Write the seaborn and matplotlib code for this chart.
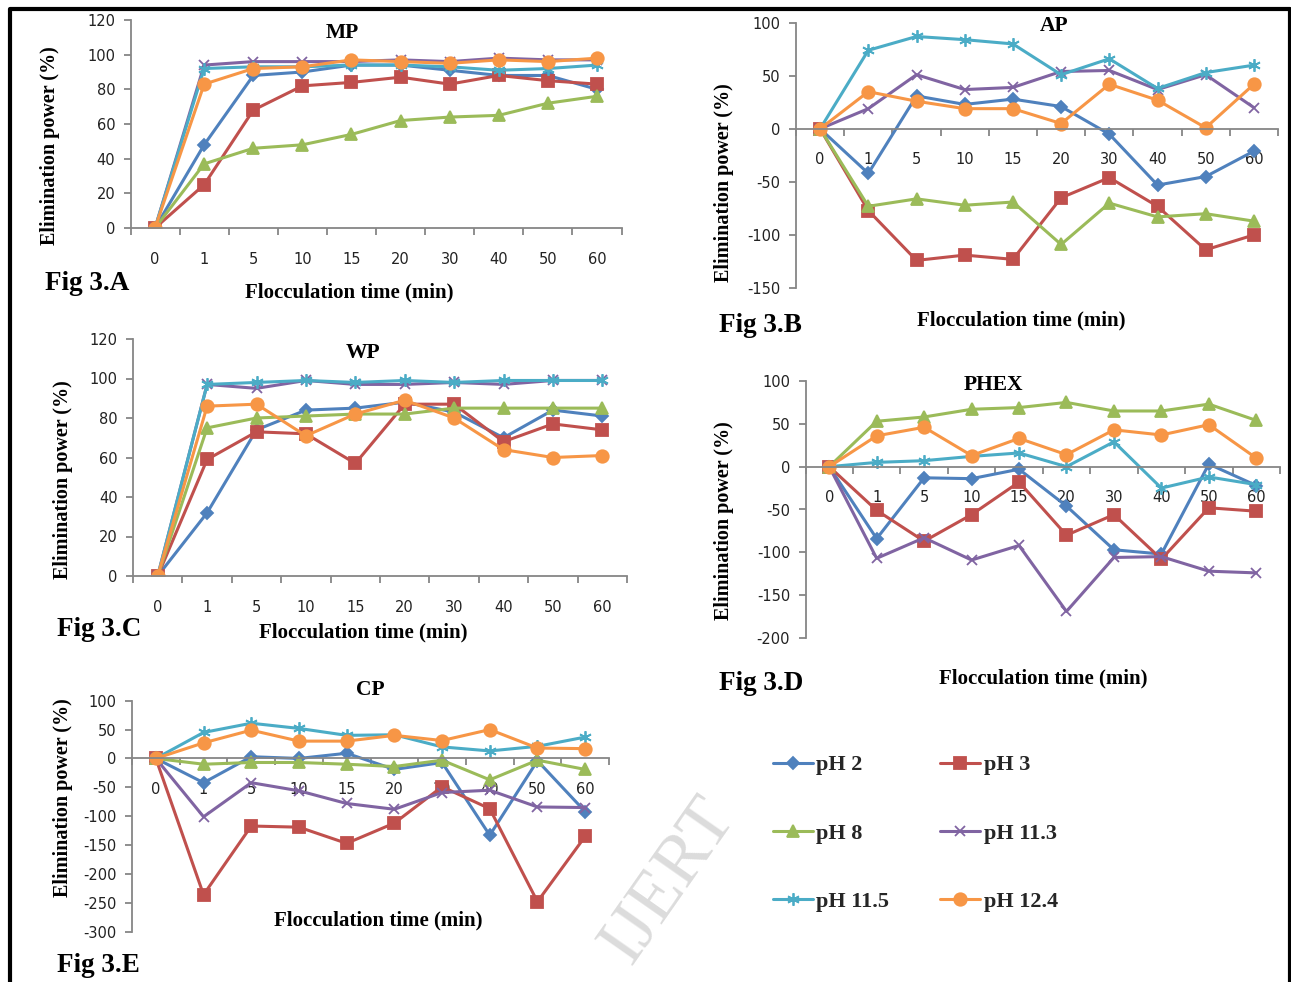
import numpy as np
import matplotlib
matplotlib.use("Agg")
import matplotlib.pyplot as plt
import matplotlib.lines as mlines
import seaborn as sns

# flocculation times (categorical x axis)
times = ["0", "1", "5", "10", "15", "20", "30", "40", "50", "60"]
series_names = ["pH 2", "pH 3", "pH 8", "pH 11.3", "pH 11.5", "pH 12.4"]

# Fig 3.A  MP
mp_ph2 = [0, 48, 88, 90, 94, 94, 91, 88, 88, 80]
mp_ph3 = [0, 25, 68, 82, 84, 87, 83, 88, 85, 83]
mp_ph8 = [0, 37, 46, 48, 54, 62, 64, 65, 72, 76]
mp_ph113 = [0, 94, 96, 96, 96, 97, 96, 98, 97, 97]
mp_ph115 = [0, 92, 93, 93, 94, 94, 93, 91, 92, 94]
mp_ph124 = [0, 83, 92, 93, 97, 96, 95, 97, 96, 98]

# Fig 3.B  AP
ap_ph2 = [0, -42, 31, 23, 28, 21, -5, -53, -45, -21]
ap_ph3 = [0, -77, -124, -119, -123, -65, -46, -73, -114, -100]
ap_ph8 = [0, -73, -66, -72, -69, -109, -70, -83, -80, -87]
ap_ph113 = [0, 19, 51, 37, 39, 54, 55, 37, 51, 20]
ap_ph115 = [0, 74, 87, 84, 80, 51, 66, 38, 53, 60]
ap_ph124 = [0, 35, 26, 19, 19, 5, 42, 27, 1, 42]

# Fig 3.C  WP
wp_ph2 = [0, 32, 74, 84, 85, 88, 83, 70, 84, 81]
wp_ph3 = [0, 59, 73, 72, 57, 87, 87, 68, 77, 74]
wp_ph8 = [0, 75, 80, 81, 82, 82, 85, 85, 85, 85]
wp_ph113 = [0, 97, 95, 99, 97, 97, 98, 97, 99, 99]
wp_ph115 = [0, 97, 98, 99, 98, 99, 98, 99, 99, 99]
wp_ph124 = [0, 86, 87, 71, 82, 89, 80, 64, 60, 61]

# Fig 3.D  PHEX
phex_ph2 = [0, -84, -13, -14, -3, -46, -97, -102, 3, -22]
phex_ph3 = [0, -51, -87, -56, -18, -80, -56, -108, -48, -52]
phex_ph8 = [0, 53, 58, 67, 69, 75, 65, 65, 73, 54]
phex_ph113 = [0, -107, -83, -109, -92, -169, -106, -105, -122, -124]
phex_ph115 = [0, 5, 7, 12, 16, 0, 29, -25, -12, -21]
phex_ph124 = [0, 36, 46, 13, 33, 14, 43, 37, 49, 10]

# Fig 3.E  CP
cp_ph2 = [0, -42, 3, 0, 9, -19, -7, -133, -4, -92]
cp_ph3 = [0, -236, -117, -119, -147, -112, -49, -87, -248, -135]
cp_ph8 = [0, -10, -7, -7, -10, -14, -3, -37, -3, -19]
cp_ph113 = [0, -101, -42, -56, -78, -88, -59, -55, -84, -85]
cp_ph115 = [0, 45, 61, 52, 40, 41, 20, 13, 21, 37]
cp_ph124 = [0, 27, 49, 30, 30, 40, 31, 50, 18, 17]

colors = ["#4F81BD", "#C0504D", "#9BBB59", "#8064A2", "#4BACC6", "#F79646"]
markers = ["D", "s", "^", "x", (6, 2, 0), "o"]
msizes = [6.5, 8, 8.5, 7, 9, 9]

sns.set_theme(style="white")
plt.rcParams["font.family"] = ["Liberation Serif", "DejaVu Serif"]
plt.rcParams["axes.unicode_minus"] = False

W, H = 1291, 982
fig = plt.figure(figsize=(W / 100, H / 100), dpi=100)


def px(x, y):
    return x / W, 1 - y / H


def make_axes(left, right, top, bottom):
    return fig.add_axes([left / W, 1 - bottom / H, (right - left) / W, (bottom - top) / H])


panels = [
    ("MP", [mp_ph2, mp_ph3, mp_ph8, mp_ph113, mp_ph115, mp_ph124], (130.5, 621.6, 20, 228), (0, 120, 20)),
    ("AP", [ap_ph2, ap_ph3, ap_ph8, ap_ph113, ap_ph115, ap_ph124], (796, 1278, 22.7, 288), (-150, 100, 50)),
    ("WP", [wp_ph2, wp_ph3, wp_ph8, wp_ph113, wp_ph115, wp_ph124], (133, 627, 339, 576), (0, 120, 20)),
    ("PHEX", [phex_ph2, phex_ph3, phex_ph8, phex_ph113, phex_ph115, phex_ph124], (805.5, 1280, 381, 638), (-200, 100, 50)),
    ("CP", [cp_ph2, cp_ph3, cp_ph8, cp_ph113, cp_ph115, cp_ph124], (132, 609, 700.7, 931.7), (-300, 100, 50)),
]

xpos = np.arange(len(times))
axes = []
for title, data, box, (ymin, ymax, ystep) in panels:
    ax = make_axes(*box)
    for vals, c, m, ms, name in zip(data, colors, markers, msizes, series_names):
        sns.lineplot(x=xpos, y=vals, ax=ax, color=c, marker=m, markersize=ms,
                     markeredgecolor=c, markeredgewidth=1.3, linewidth=2.2,
                     label=name, legend=False)
    ax.set_xlim(-0.5, len(times) - 0.5)
    ax.set_ylim(ymin, ymax)
    ax.set_yticks(np.arange(ymin, ymax + 1, ystep))
    ax.set_xticks(xpos)
    ax.set_xticklabels(times)
    ax.set_xticks(np.arange(-0.5, len(times)), minor=True)
    ax.set_xlabel("")
    ax.set_ylabel("")
    for s in ["top", "right"]:
        ax.spines[s].set_visible(False)
    for s in ["left", "bottom"]:
        ax.spines[s].set_color("#868686")
        ax.spines[s].set_linewidth(1.3)
    ax.spines["bottom"].set_position(("data", 0))
    ax.tick_params(axis="x", which="major", length=0, pad=17, labelsize=10.5,
                   labelcolor="#222222")
    ax.tick_params(axis="x", which="minor", length=5, width=1.3, color="#868686",
                   direction="out", bottom=True)
    ax.tick_params(axis="y", length=5, width=1.3, color="#868686", direction="out",
                   left=True, labelsize=10.5, labelcolor="#222222", pad=6)
    for lab in ax.get_xticklabels() + ax.get_yticklabels():
        lab.set_family("DejaVu Sans")
    ax.set_facecolor("none")
    axes.append(ax)

bold = dict(fontweight="bold", color="black")

# panel titles
for txt, (x, y) in zip(["MP", "AP", "WP", "PHEX", "CP"],
                       [(342, 33), (1054, 26), (363, 353), (993, 385), (370, 690)]):
    fig.text(*px(x, y), txt, ha="center", va="center", fontsize=15.5, **bold)

# x axis labels
for x, y in [(349, 292), (1021, 320), (363, 632), (1043, 678), (378, 920)]:
    fig.text(*px(x, y), "Flocculation time (min)", ha="center", va="center",
             fontsize=15, **bold)

# y axis labels
for x, y in [(50, 146), (724, 183), (63, 480), (724, 521), (63, 798)]:
    fig.text(*px(x, y), "Elimination power (%)", ha="center", va="center",
             rotation=90, fontsize=14.5, **bold)

# figure tags
for txt, (x, y) in zip(["Fig 3.A", "Fig 3.B", "Fig 3.C", "Fig 3.D", "Fig 3.E"],
                       [(45, 283), (719, 325), (57, 630), (719, 683), (57, 965)]):
    fig.text(*px(x, y), txt, ha="left", va="center", fontsize=19.5, **bold)

# legend, filled row by row: pH 2 | pH 3 / pH 8 | pH 11.3 / pH 11.5 | pH 12.4
handles, labels = axes[0].get_legend_handles_labels()
order = [0, 2, 4, 1, 3, 5]
leg = fig.legend([handles[i] for i in order], [labels[i] for i in order],
                 ncol=2, loc="upper left",
                 bbox_to_anchor=px(764, 746), frameon=False,
                 prop={"family": "Liberation Serif", "weight": "bold", "size": 16},
                 handlelength=1.8, handletextpad=0.15, columnspacing=2.3,
                 labelspacing=2.15, borderaxespad=0)

# watermark
fig.text(*px(668, 880), "IJERT", rotation=55, ha="center", va="center",
         fontsize=52, color="#dcdcdc", zorder=0)

# frame round the whole picture (open at the bottom edge)
frame = mlines.Line2D([10 / W, 10 / W, 1290 / W, 1290 / W],
                      [0, 1 - 9 / H, 1 - 9 / H, 0], transform=fig.transFigure,
                      color="black", linewidth=3)
fig.add_artist(frame)

fig.savefig("out.png", dpi=100, facecolor="white")
